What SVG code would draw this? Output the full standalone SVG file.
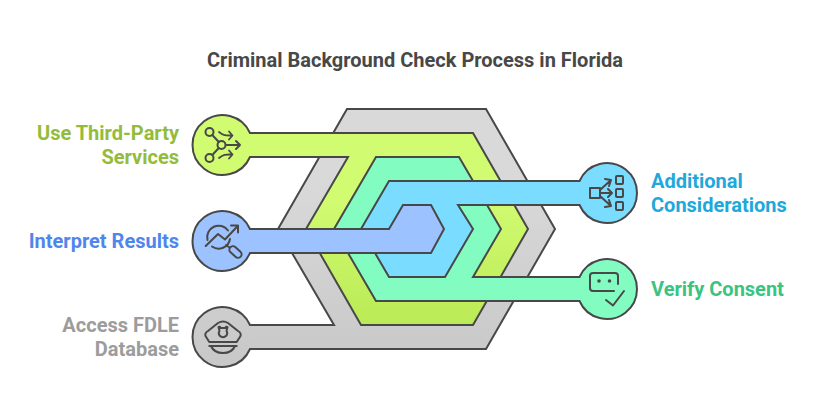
<svg xmlns="http://www.w3.org/2000/svg" width="818" height="416" viewBox="0 0 818 416">
<style>
.s{stroke:#484848;stroke-width:2;stroke-linejoin:miter}
.i{fill:none;stroke:#484848;stroke-width:2;stroke-linecap:round;stroke-linejoin:round}
.t{font-family:Roboto,"Liberation Sans",sans-serif;font-weight:700;font-size:20px}
.e{text-anchor:end}
</style>
<defs>
<linearGradient id="gg" gradientUnits="userSpaceOnUse" x1="0" y1="180" x2="0" y2="367"><stop offset="0" stop-color="#d9d9d9"/><stop offset="1" stop-color="#c8c8c8"/></linearGradient>
<linearGradient id="gl" gradientUnits="userSpaceOnUse" x1="0" y1="200" x2="0" y2="325"><stop offset="0" stop-color="#d1fb71"/><stop offset="1" stop-color="#baea55"/></linearGradient>
</defs>
<rect width="818" height="416" fill="#fff"/>
<text class="t" x="415" y="67" text-anchor="middle" fill="#484848" id="title">Criminal Background Check Process in Florida</text>
<g id="connectors">
<path class="s" fill="url(#gg)" d="M250,349A30,30 0 1 1 250,325L334,325L278,229L347,109L486,109L555,229L486,349Z"/>
<path class="s" fill="url(#gl)" d="M250,157A30,30 0 1 1 250,133L473,133L528,229L473,325L361,325L306,229L348,157Z"/>
<path class="s" fill="#83fcc2" d="M376,157L459,157L501,229L473,277L579.5,277A30,30 0 1 1 579.5,301L376,301L334,229Z"/>
<path class="s" fill="#7adcff" d="M389,181L579.5,181A30,30 0 1 1 579.5,205L458,205L473,229L445,277L389,277L361,229Z"/>
<path class="s" fill="#9cc2ff" d="M250,253A30,30 0 1 1 250,229L389,229L403,205L431,205L444,229L431,253Z"/>
</g>
<g id="node-third-party">
<g class="i">
<circle cx="209.5" cy="132" r="4"/><circle cx="221.500" cy="145" r="4"/><circle cx="209.500" cy="158" r="4"/>
<path d="M212.300,135L218.800,142M212.300,155L218.800,148M226,145H240M236,141L240,145L236,149"/>
<path d="M219,132C224,136 226,135.500 232,135.500M229,131.500L232.500,135.500L229,139.500M219,158C224,154 226,154.500 232,154.500M229,150.500L232.500,154.500L229,158.500" stroke-width="1.800"/>
</g>
<text class="t e" x="179" y="140" fill="#94bc3c">Use Third-Party</text>
<text class="t e" x="179" y="164" fill="#94bc3c">Services</text>
</g>
<g id="node-interpret">
<g class="i">
<path d="M207.500,240A11.500,11.500 0 0 1 228,230.500M230,239A11.500,11.500 0 0 1 212,246.500"/>
<path d="M205.700,246L218,234L225,239.500L237.700,226M231,225.500H238V232.500"/>
<rect x="228.500" y="248.500" width="14" height="7" rx="3.500" transform="rotate(42 235.500 252)"/>
<path d="M226,245L229.500,247.500"/>
</g>
<text class="t e" x="179" y="248" fill="#4f86ee">Interpret Results</text>
</g>
<g id="node-fdle">
<g class="i">
<path d="M209.300,342L205.500,336Q204.500,333 208,331L218,323Q223,320 228,323L238,331Q241.500,333 240.500,336L236.700,342Z"/>
<path d="M209.300,346H236.700"/>
<path d="M211,346Q214,353 223,353Q232,353 235,346"/>
<path d="M218.500,327Q220,326 220.500,328H225.500Q226,326 227.500,327L226.500,331Q228,333 226.500,335.500Q223,339 219.500,335.500Q218,333 219.500,331Z"/>
</g>
<text class="t e" x="179" y="332" fill="#9c9c9c">Access FDLE</text>
<text class="t e" x="179" y="356" fill="#9c9c9c">Database</text>
</g>
<g id="node-additional">
<g class="i">
<rect x="590" y="188" width="10" height="10"/>
<rect x="616" y="176" width="7" height="8" rx="1"/><rect x="616" y="189" width="7" height="8" rx="1"/><rect x="616" y="202" width="7" height="8" rx="1"/>
<path d="M600,190L611,180M605,179L611,180L609,186M601,193H611.500M608,189L612,193L608,197M600,196L611,206M605,207L611,206L609,200"/>
</g>
<text class="t" x="651" y="188" fill="#1fa8db">Additional</text>
<text class="t" x="651" y="212" fill="#1fa8db">Considerations</text>
</g>
<g id="node-consent">
<g class="i">
<path d="M614,291H593Q590,291 590,288V276Q590,273 593,273H615Q618,273 618,276V284"/>
<path d="M606,300L613,305.500L624,291"/>
</g>
<circle cx="599" cy="281" r="1.800" fill="#484848"/><circle cx="609.500" cy="281" r="1.800" fill="#484848"/>
<text class="t" x="651" y="296" fill="#39c482">Verify Consent</text>
</g>
</svg>
